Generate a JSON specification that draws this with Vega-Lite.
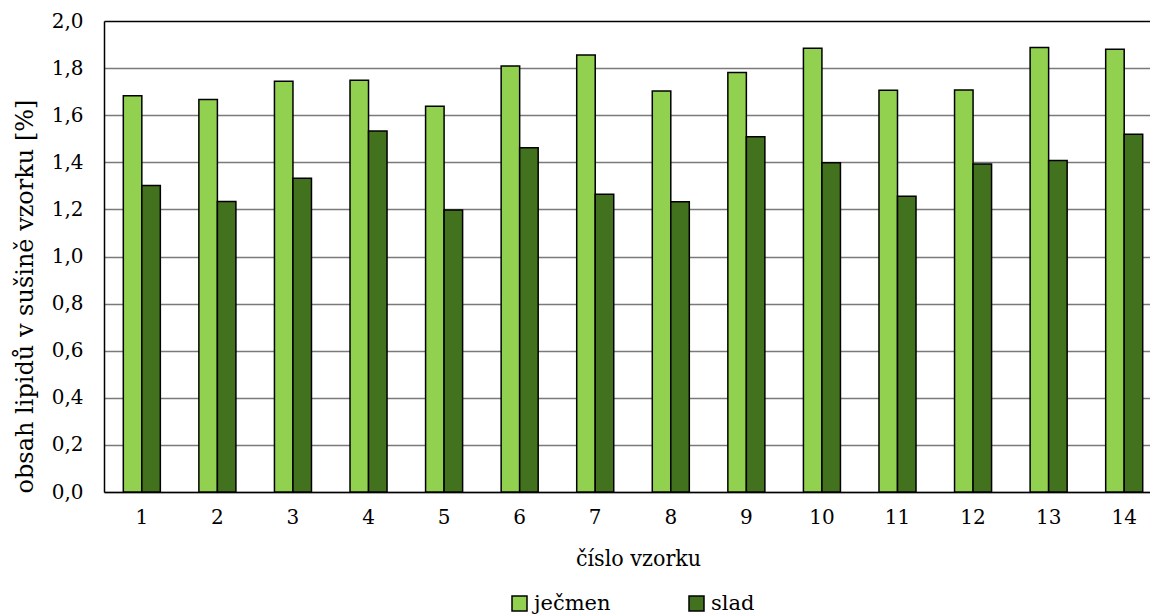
{
  "$schema": "https://vega.github.io/schema/vega-lite/v6.json",
  "autosize": {"type": "none"},
  "width": 1046,
  "height": 471,
  "padding": {"left": 104, "top": 21, "right": 0, "bottom": 122},
  "background": "white",
  "config": {
    "view": {"stroke": null},
    "axis": {"labelColor": "black", "titleColor": "black", "titleFontWeight": "normal"},
    "legend": {"labelColor": "black"}
  },
  "data": {
    "values": [
      {"vzorek": 1, "typ": "ječmen", "obsah": 1.683}, {"vzorek": 1, "typ": "slad", "obsah": 1.302},
      {"vzorek": 2, "typ": "ječmen", "obsah": 1.667}, {"vzorek": 2, "typ": "slad", "obsah": 1.234},
      {"vzorek": 3, "typ": "ječmen", "obsah": 1.744}, {"vzorek": 3, "typ": "slad", "obsah": 1.332},
      {"vzorek": 4, "typ": "ječmen", "obsah": 1.748}, {"vzorek": 4, "typ": "slad", "obsah": 1.533},
      {"vzorek": 5, "typ": "ječmen", "obsah": 1.638}, {"vzorek": 5, "typ": "slad", "obsah": 1.197},
      {"vzorek": 6, "typ": "ječmen", "obsah": 1.809}, {"vzorek": 6, "typ": "slad", "obsah": 1.462},
      {"vzorek": 7, "typ": "ječmen", "obsah": 1.856}, {"vzorek": 7, "typ": "slad", "obsah": 1.264},
      {"vzorek": 8, "typ": "ječmen", "obsah": 1.703}, {"vzorek": 8, "typ": "slad", "obsah": 1.233},
      {"vzorek": 9, "typ": "ječmen", "obsah": 1.781}, {"vzorek": 9, "typ": "slad", "obsah": 1.509},
      {"vzorek": 10, "typ": "ječmen", "obsah": 1.884}, {"vzorek": 10, "typ": "slad", "obsah": 1.398},
      {"vzorek": 11, "typ": "ječmen", "obsah": 1.706}, {"vzorek": 11, "typ": "slad", "obsah": 1.256},
      {"vzorek": 12, "typ": "ječmen", "obsah": 1.707}, {"vzorek": 12, "typ": "slad", "obsah": 1.393},
      {"vzorek": 13, "typ": "ječmen", "obsah": 1.888}, {"vzorek": 13, "typ": "slad", "obsah": 1.408},
      {"vzorek": 14, "typ": "ječmen", "obsah": 1.880}, {"vzorek": 14, "typ": "slad", "obsah": 1.519}
    ]
  },
  "mark": {"type": "bar", "stroke": "black", "strokeWidth": 1.5},
  "encoding": {
    "x": {
      "field": "vzorek", "type": "ordinal",
      "scale": {"paddingInner": 0.51, "paddingOuter": 0.176, "align": 0.726},
      "axis": {
        "title": "číslo vzorku", "labelAngle": 0, "labelFontSize": 20, "titleFontSize": 23,
        "labelFont": "DejaVu Serif", "titleFont": "DejaVu Serif Condensed",
        "ticks": false, "labelPadding": 15, "titlePadding": 20, "titleX": 534,
        "domainColor": "black", "domainWidth": 1.5
      }
    },
    "xOffset": {"field": "typ", "type": "nominal", "sort": ["ječmen", "slad"]},
    "y": {
      "field": "obsah", "type": "quantitative",
      "scale": {"domain": [0, 2], "nice": false},
      "axis": {
        "title": "obsah lipidů v sušině vzorku [%]",
        "labelFont": "DejaVu Serif", "titleFont": "DejaVu Serif",
        "values": [0, 0.2, 0.4, 0.6, 0.8, 1.0, 1.2, 1.4, 1.6, 1.8, 2.0],
        "labelExpr": "replace(format(datum.value, '.1f'), '.', ',')",
        "labelFontSize": 20, "titleFontSize": 24, "ticks": false, "labelPadding": 21,
        "titlePadding": 14, "titleY": 275,
        "domainColor": "black", "domainWidth": 1.5,
        "gridColor": {"condition": {"test": "datum.value == 2", "value": "black"}, "value": "#7a7a7a"},
        "gridWidth": 1.5
      }
    },
    "color": {
      "field": "typ", "type": "nominal",
      "scale": {"domain": ["ječmen", "slad"], "range": ["#92D050", "#43721E"]},
      "legend": {
        "title": null, "orient": "none", "legendX": 405, "legendY": 572, "direction": "horizontal",
        "labelFont": "DejaVu Serif",
        "symbolType": "square", "symbolSize": 225, "symbolStrokeColor": "black", "symbolStrokeWidth": 1.5,
        "labelFontSize": 21, "columnPadding": 75, "labelOffset": 4
      }
    }
  }
}
